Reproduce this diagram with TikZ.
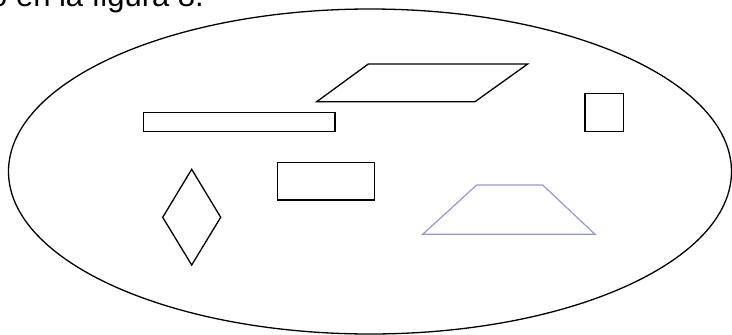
\documentclass[tikz,border=0pt]{standalone}
\usepackage{fontspec}
\setmainfont{Liberation Sans}
\begin{document}
\begin{tikzpicture}[x=1pt,y=-1pt,
  shapeline/.style={draw=black,line width=1.3pt,line join=miter},
  trapline/.style={draw={rgb,255:red,150;green,150;blue,215},line width=1.2pt}]
\useasboundingbox (0,0) rectangle (732,335);
\node[anchor=base west,inner sep=0pt,font=\fontsize{31}{37}\selectfont] (caption) at (-10,6) {o en la figura 8.};
\draw[line width=1.3pt] (370,171.5) ellipse [x radius=361.5, y radius=162.5];
% parallelogram
\draw[shapeline] (368.3,64) -- (527.7,64) -- (475,101.7) -- (316.7,101.7) -- cycle;
% long rectangle
\draw[shapeline] (143.3,112.3) rectangle (335,131.7);
% small rectangle
\draw[shapeline] (277.7,162.3) rectangle (374.3,200);
% square
\draw[shapeline] (585,93.3) rectangle (623.3,131.7);
% diamond
\draw[shapeline] (191.7,169.3) -- (220.7,217.3) -- (191.7,265) -- (162.7,217.3) -- cycle;
% trapezoid
\draw[trapline] (476.7,185) -- (542.7,185) -- (595,234.3) -- (422.7,234.3) -- cycle;
\end{tikzpicture}
\end{document}
